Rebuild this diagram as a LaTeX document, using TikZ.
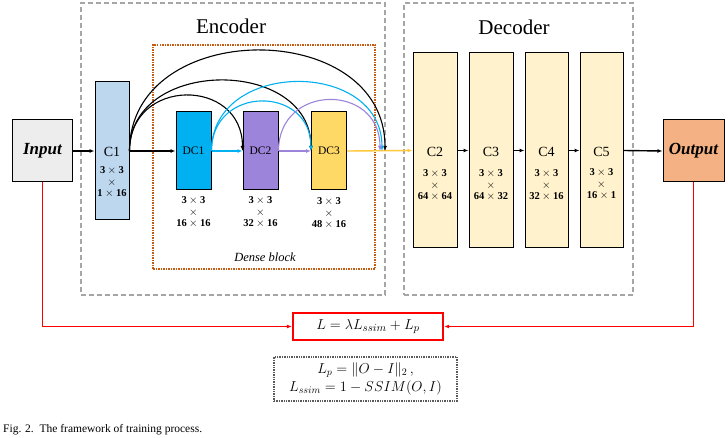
\documentclass[tikz,border=0pt]{standalone}
\usepackage{amsmath}
\usepackage{fontspec}
\setmainfont{Liberation Serif}
\usetikzlibrary{arrows.meta}
\definecolor{inpgray}{RGB}{237,237,237}
\definecolor{c1blue}{RGB}{189,215,238}
\definecolor{dcblue}{RGB}{0,176,240}
\definecolor{dcpurple}{RGB}{156,132,218}
\definecolor{dcyellow}{RGB}{255,217,102}
\definecolor{decfill}{RGB}{255,242,204}
\definecolor{outfill}{RGB}{244,177,131}
\definecolor{dashgray}{RGB}{166,166,166}
\definecolor{denseor}{RGB}{197,90,17}
\definecolor{lineyel}{RGB}{255,200,60}
\definecolor{dotgray}{RGB}{90,90,90}
\newcommand{\dimtxt}[2]{$\mathbf{#1}$\\[-1pt]$\times$\\[-1pt]$\mathbf{#2}$}
\begin{document}
\begin{tikzpicture}[x=1pt,y=-1pt,
  blk/.style={draw=black,line width=1pt,inner sep=0pt},
  gbox/.style={draw=dashgray,line width=2.2pt,dash pattern=on 5pt off 3pt,inner sep=0pt},
  lbl/.style={font=\fontsize{14}{16}\selectfont},
  slbl/.style={font=\fontsize{11.5}{13}\selectfont},
  dimsty/.style={align=center,font=\fontsize{10.5}{12.5}\selectfont,inner sep=0pt},
  tip/.style={-{Latex[length=5pt,width=4pt]}},
  mainarr/.style={tip,line width=1.4pt},
  arcarr/.style={tip,line width=1.1pt},
  redarr/.style={draw=red,line width=1.5pt,-{Latex[length=5pt,width=4pt]}}
]
\useasboundingbox (0,0) rectangle (728,438);

% group frames
\node[gbox,minimum width=304pt,minimum height=292pt] (enc) at (233,149) {};
\node[gbox,minimum width=229pt,minimum height=292pt] (dec) at (518.5,149) {};
\node[font=\fontsize{21}{24}\selectfont] (enct) at (231,26) {Encoder};
\node[font=\fontsize{21}{24}\selectfont] (dect) at (514,27) {Decoder};
\node[draw=denseor,line width=1.5pt,densely dotted,minimum width=222pt,minimum height=224pt,inner sep=0pt] (dense) at (264,157) {};
\node[font=\fontsize{12.5}{14}\selectfont\itshape] (densel) at (265,257) {Dense block};

% blocks
\node[blk,fill=inpgray,minimum width=60pt,minimum height=62pt] (input) at (42.5,151) {};
\node[font=\fontsize{17}{18}\selectfont\bfseries\itshape] (inputt) at (input.center) {Input};
\node[blk,fill=c1blue,minimum width=34pt,minimum height=138pt] (c1) at (112,151) {};
\node[lbl] (c1t) at (112,152) {C1};
\node[dimsty] (c1d) at (112,182) {\dimtxt{3\times3}{1\times16}};

\node[blk,fill=dcblue,minimum width=35pt,minimum height=78pt] (dc1) at (193.5,151) {};
\node[blk,fill=dcpurple,minimum width=35pt,minimum height=78pt] (dc2) at (260.5,151) {};
\node[blk,fill=dcyellow,minimum width=35pt,minimum height=78pt] (dc3) at (329,151) {};
\node[slbl] (dc1t) at (dc1.center) {DC1};
\node[slbl] (dc2t) at (dc2.center) {DC2};
\node[slbl] (dc3t) at (dc3.center) {DC3};
\node[dimsty] (dc1d) at (193.5,212) {\dimtxt{3\times3}{16\times16}};
\node[dimsty] (dc2d) at (260.5,212) {\dimtxt{3\times3}{32\times16}};
\node[dimsty] (dc3d) at (329,213) {\dimtxt{3\times3}{48\times16}};

\node[blk,fill=decfill,minimum width=44pt,minimum height=195pt] (c2) at (435,150.5) {};
\node[blk,fill=decfill,minimum width=44pt,minimum height=195pt] (c3) at (491,150.5) {};
\node[blk,fill=decfill,minimum width=43pt,minimum height=195pt] (c4) at (546.5,150.5) {};
\node[blk,fill=decfill,minimum width=43pt,minimum height=195pt] (c5) at (601.5,150.5) {};
\node[lbl] (c2t) at (435,152) {C2};
\node[lbl] (c3t) at (491,152) {C3};
\node[lbl] (c4t) at (546.5,152) {C4};
\node[lbl] (c5t) at (601.5,152) {C5};
\node[dimsty] (c2d) at (435,185) {\dimtxt{3\times3}{64\times64}};
\node[dimsty] (c3d) at (491,185) {\dimtxt{3\times3}{64\times32}};
\node[dimsty] (c4d) at (546.5,185) {\dimtxt{3\times3}{32\times16}};
\node[dimsty] (c5d) at (601.5,184) {\dimtxt{3\times3}{16\times1}};

\node[blk,fill=outfill,minimum width=61pt,minimum height=62pt] (output) at (693.5,151) {};
\node[font=\fontsize{17}{18}\selectfont\bfseries\itshape] (outputt) at (output.center) {Output};

% junction points
\coordinate (jb) at (385,151);
\coordinate (jc) at (382,151);
\coordinate (jp) at (380,151);

% straight arrows
\draw[mainarr] (input.east) -- (c1.west);
\draw[mainarr] (c1.east) -- (dc1.west);
\draw[mainarr,draw=dcblue,fill=dcblue] (dc1.east) -- (dc2.west);
\draw[mainarr,draw=dcpurple,fill=dcpurple] (dc2.east) -- (dc3.west);
\draw[mainarr,draw=lineyel,fill=lineyel] (dc3.east) -- (c2.west);
\draw[mainarr] (c2.east) -- (c3.west);
\draw[mainarr] (c3.east) -- (c4.west);
\draw[mainarr] (c4.east) -- (c5.west);
\draw[mainarr] (c5.east) -- (output.west);

% dense arcs
\draw[arcarr] (c1.east) .. controls +(0,-74) and +(0,-74) .. (dc2.west);
\draw[arcarr] (c1.east) .. controls +(0,-94) and +(0,-94) .. (dc3.west);
\draw[arcarr] (c1.east) .. controls +(0,-134) and +(0,-134) .. (jb);
\draw[arcarr,draw=dcblue] (dc1.east) .. controls +(0,-66) and +(0,-66) .. (dc3.west);
\draw[arcarr,draw=dcblue] (dc1.east) .. controls +(0,-92) and +(0,-92) .. (jc);
\draw[arcarr,draw=dcpurple] (dc2.east) .. controls +(0,-68) and +(0,-68) .. (jp);

% loss
\node[draw=red,line width=2.2pt,minimum width=150pt,minimum height=27pt,inner sep=0pt,font=\fontsize{15}{17}\selectfont] (loss) at (368,326.5) {$L=\lambda L_{ssim}+L_p$};
\node[draw=dotgray,line width=1.4pt,densely dotted,minimum width=183pt,minimum height=44pt,inner sep=0pt,align=center,font=\fontsize{14}{18}\selectfont] (form) at (365.5,379) {$L_p=\lVert O-I\rVert_2\,,$\\$L_{ssim}=1-SSIM(O,I)$};
\draw[redarr] (input.south) |- (loss.west);
\draw[redarr] (output.south) |- (loss.east);

% caption
\node[anchor=west,inner sep=0pt,font=\fontsize{11.5}{13}\selectfont] (cap) at (3,430) {Fig. 2.\ \ The framework of training process.};
\end{tikzpicture}
\end{document}
